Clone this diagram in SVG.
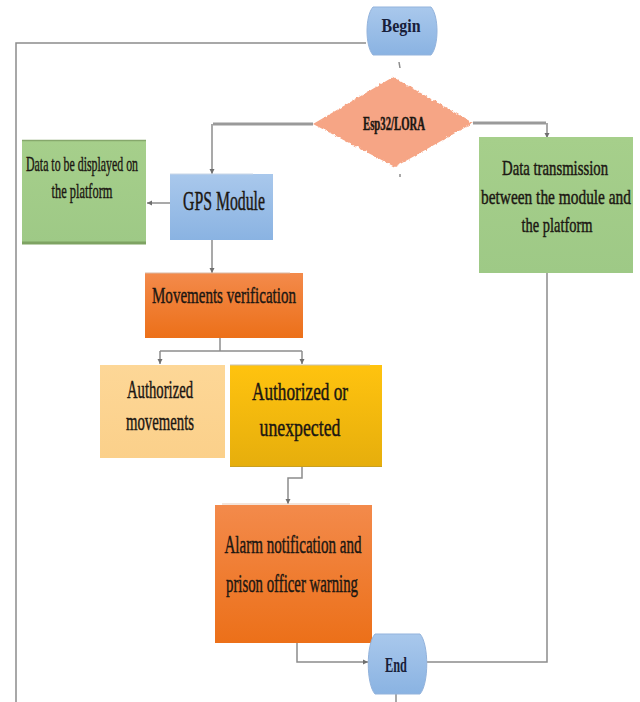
<svg xmlns="http://www.w3.org/2000/svg" width="640" height="702" viewBox="0 0 640 702">
<defs>
  <linearGradient id="gBlue" x1="0" y1="0" x2="0" y2="1">
    <stop offset="0" stop-color="#a9c8ec"/>
    <stop offset="1" stop-color="#8ab3e2"/>
  </linearGradient>
  <linearGradient id="gOrange" x1="0" y1="0" x2="0" y2="1">
    <stop offset="0" stop-color="#f38a4b"/>
    <stop offset="1" stop-color="#ec7019"/>
  </linearGradient>
  <linearGradient id="gGold" x1="0" y1="0" x2="0" y2="1">
    <stop offset="0" stop-color="#ffc30f"/>
    <stop offset="1" stop-color="#e6ae0c"/>
  </linearGradient>
  <linearGradient id="gPale" x1="0" y1="0" x2="0" y2="1">
    <stop offset="0" stop-color="#fdd797"/>
    <stop offset="1" stop-color="#fbd08a"/>
  </linearGradient>
  <linearGradient id="gGreen" x1="0" y1="0" x2="0" y2="1">
    <stop offset="0" stop-color="#a6cf8b"/>
    <stop offset="1" stop-color="#9ec986"/>
  </linearGradient>
  <filter id="rough" x="-5%" y="-5%" width="110%" height="110%">
    <feTurbulence type="fractalNoise" baseFrequency="0.35" numOctaves="1" seed="3" result="n"/>
    <feDisplacementMap in="SourceGraphic" in2="n" scale="4" xChannelSelector="R" yChannelSelector="G"/>
  </filter>
  <marker id="arr" markerWidth="6" markerHeight="6" refX="5" refY="3" orient="auto" markerUnits="userSpaceOnUse">
    <path d="M0,0.5 L5,3 L0,5.5 Z" fill="#6f6f6f"/>
  </marker>
  <style>
    .t { font-family: "Liberation Serif", "Times New Roman", serif; fill: #1c1712; stroke: #1c1712; stroke-width: 0.45; text-anchor: middle; }
    .tb { font-family: "Liberation Serif", "Times New Roman", serif; fill: #18203a; text-anchor: middle; font-weight: bold; }
    .c { fill: none; stroke: #8c8c8c; stroke-width: 1.5; }
    .ck { fill: none; stroke: #9a9a9a; stroke-width: 3; }
    .ca { fill: none; stroke: #8c8c8c; stroke-width: 1.5; marker-end: url(#arr); }
    .term { fill: url(#gBlue); stroke: #93b3dc; stroke-width: 1; }
  </style>
</defs>
<rect width="640" height="702" fill="#ffffff"/>

<g id="connectors">
  <path class="c" d="M366,43 H16 V702"/>
  <path class="c" d="M396,694 V702"/>
  <path class="c" d="M399,62 L400,68"/>
  <path class="c" d="M400,174 V177"/>
  <path class="ck" d="M313,124 H213"/>
  <path class="ca" d="M212,124 V174"/>
  <path class="ck" d="M473,123 H546"/>
  <path class="ca" d="M547,123 V138"/>
  <path class="ca" d="M170,203 H147"/>
  <path class="ca" d="M212,240 V273"/>
  <path class="c" d="M220,338 V351"/>
  <path class="c" d="M160,351 H302"/>
  <path class="ca" d="M160,351 V364"/>
  <path class="ca" d="M302,351 V364"/>
  <path class="ca" d="M302,467 V478 H288 V504"/>
  <path class="ca" d="M297,643 V662 H368"/>
  <path class="c" d="M547,273 V662 H427"/>
</g>

<g id="begin">
  <path class="term" d="M373,7 H431 C439,16 439,46 431,55 H373 C365,46 365,16 373,7 Z"/>
  <text class="tb" x="401" y="32" font-size="19" textLength="39" lengthAdjust="spacingAndGlyphs">Begin</text>
</g>

<g id="esp32">
  <polygon points="313,124 393,77 473,123 395,167" fill="#f6a585" filter="url(#rough)"/>
  <text class="t" x="394" y="130" font-size="18" font-weight="bold" stroke-width="0.2" textLength="62" lengthAdjust="spacingAndGlyphs">Esp32/LORA</text>
</g>

<g id="data-display">
  <rect x="22" y="140" width="124" height="104" fill="url(#gGreen)"/>
  <line x1="22" y1="140.5" x2="146" y2="140.5" stroke="#86a86c" stroke-width="1.5"/>
  <line x1="22" y1="243" x2="146" y2="243" stroke="#7ea363" stroke-width="3"/>
  <text class="t" x="82" y="171" font-size="22" textLength="112" lengthAdjust="spacingAndGlyphs">Data to be displayed on</text>
  <text class="t" x="82" y="198" font-size="22" textLength="61" lengthAdjust="spacingAndGlyphs">the platform</text>
</g>

<g id="gps">
  <rect x="170" y="174" width="103" height="66" fill="url(#gBlue)"/>
  <line x1="170" y1="174" x2="253" y2="174" stroke="#c9d6e6" stroke-width="1"/>
  <text class="t" x="224" y="210" font-size="27" textLength="82" lengthAdjust="spacingAndGlyphs" fill="#141a2a" stroke="#141a2a">GPS Module</text>
</g>

<g id="data-transmission">
  <rect x="479" y="137" width="154" height="136" fill="url(#gGreen)"/>
  <text class="t" x="555" y="175" font-size="21" textLength="106" lengthAdjust="spacingAndGlyphs">Data transmission</text>
  <text class="t" x="556" y="204" font-size="21" textLength="150" lengthAdjust="spacingAndGlyphs">between the module and</text>
  <text class="t" x="557" y="232" font-size="21" textLength="71" lengthAdjust="spacingAndGlyphs">the platform</text>
</g>

<g id="movements">
  <rect x="145" y="273" width="158" height="65" fill="url(#gOrange)"/>
  <line x1="145" y1="273" x2="290" y2="273" stroke="#d9b7a3" stroke-width="1"/>
  <text class="t" x="224" y="303" font-size="24" textLength="144" lengthAdjust="spacingAndGlyphs">Movements verification</text>
</g>

<g id="authorized">
  <rect x="100" y="365" width="125" height="93" fill="url(#gPale)"/>
  <text class="t" x="160" y="398" font-size="25" textLength="66" lengthAdjust="spacingAndGlyphs">Authorized</text>
  <text class="t" x="160" y="430" font-size="25" textLength="68" lengthAdjust="spacingAndGlyphs">movements</text>
</g>

<g id="unexpected">
  <rect x="230" y="365" width="152" height="102" fill="url(#gGold)"/>
  <line x1="230" y1="365" x2="370" y2="365" stroke="#c9c2b0" stroke-width="1.2"/>
  <line x1="230" y1="466.5" x2="382" y2="466.5" stroke="#c9a020" stroke-width="1"/>
  <text class="t" x="300" y="400" font-size="25" textLength="96" lengthAdjust="spacingAndGlyphs">Authorized or</text>
  <text class="t" x="300" y="436" font-size="25" textLength="81" lengthAdjust="spacingAndGlyphs">unexpected</text>
</g>

<g id="alarm">
  <rect x="215" y="505" width="157" height="138" fill="url(#gOrange)"/>
  <line x1="222" y1="504" x2="350" y2="504" stroke="#e8c9b6" stroke-width="1.2"/>
  <text class="t" x="293" y="553" font-size="25" textLength="137" lengthAdjust="spacingAndGlyphs">Alarm notification and</text>
  <text class="t" x="292" y="592" font-size="25" textLength="132" lengthAdjust="spacingAndGlyphs">prison officer warning</text>
</g>

<g id="end">
  <path class="term" d="M375,634 H420 C429,644 429,684 420,694 H375 C366,684 366,644 375,634 Z"/>
  <text class="tb" x="396" y="672" font-size="22" textLength="22" lengthAdjust="spacingAndGlyphs">End</text>
</g>
</svg>
